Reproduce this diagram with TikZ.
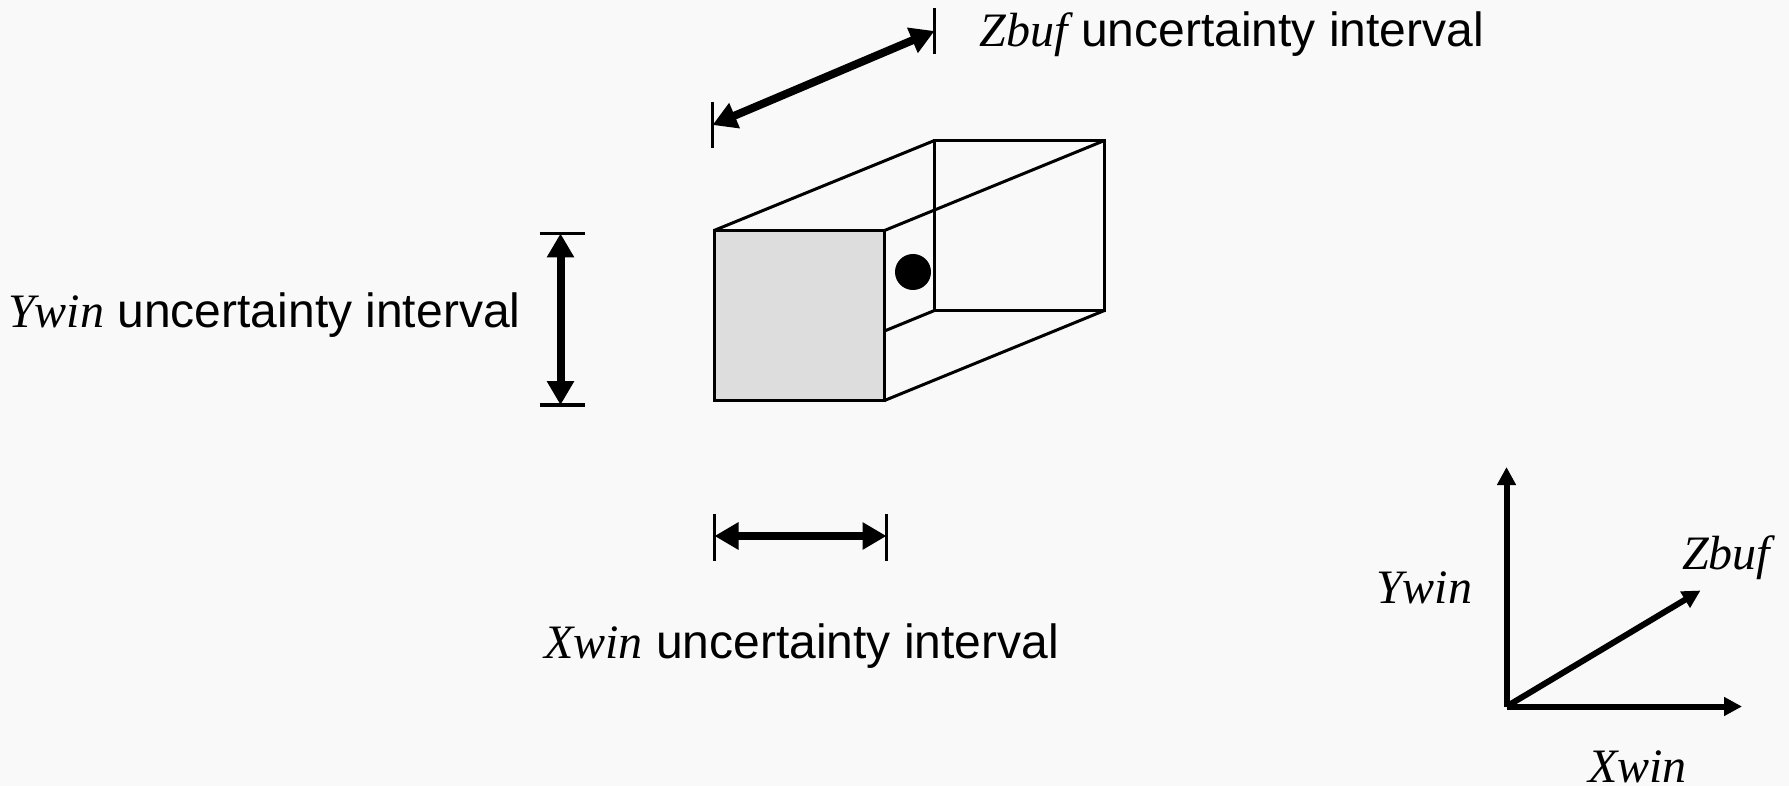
\documentclass[tikz,border=0pt]{standalone}
\usepackage{fontspec}
\setmainfont{Liberation Sans}
\newfontfamily\serifbase{Liberation Serif}
\newcommand{\varname}[1]{{\serifbase\itshape #1}}
\usetikzlibrary{arrows.meta}
\tikzset{
  label text/.style={inner sep=0pt,anchor=base west,font=\fontsize{48}{56}\selectfont},
  box line/.style={line width=3pt,line join=miter},
  bar line/.style={line width=3.6pt},
  dim arrow/.style={line width=8pt,{Triangle[length=24pt,width=26pt]}-{Triangle[length=24pt,width=26pt]}},
  axis arrow/.style={line width=6pt,-{Triangle[length=18pt,width=18pt]}}
}
\begin{document}
\begin{tikzpicture}[x=1pt,y=-1pt]
\useasboundingbox[fill={rgb,255:red,249;green,249;blue,249}] (0,0) rectangle (1789,786);
% corners
\coordinate (fa) at (714,230.5);
\coordinate (fb) at (884.5,230.5);
\coordinate (fc) at (884.5,400.5);
\coordinate (fd) at (714,400.5);
\coordinate (ba) at (934.5,140.5);
\coordinate (bb) at (1104.5,140.5);
\coordinate (bc) at (1104.5,310.5);
\coordinate (bd) at (934.5,310.5);
\coordinate (be) at (884.5,331);
% receding box
\draw[box line] (ba) rectangle (bc);
\draw[box line] (fa) -- (ba);
\draw[box line] (fb) -- (bb);
\draw[box line] (fc) -- (bc);
\draw[box line] (be) -- (bd);
\draw[box line,fill={rgb,255:red,221;green,221;blue,221}] (fa) rectangle (fc);
\node[circle,fill=black,minimum size=36pt,inner sep=0pt] (dot) at (913,272) {};
% Z interval
\coordinate (zt1) at (934.5,8); \coordinate (zt2) at (934.5,54);
\coordinate (zl1) at (712.5,102); \coordinate (zl2) at (712.5,148);
\coordinate (zp1) at (712.5,125); \coordinate (zp2) at (934.5,31);
\draw[bar line] (zt1) -- (zt2);
\draw[bar line] (zl1) -- (zl2);
\draw[dim arrow] (zp1) -- (zp2);
% Y interval
\coordinate (yt1) at (539.5,233.5); \coordinate (yt2) at (585,233.5);
\coordinate (yb1) at (539.5,405); \coordinate (yb2) at (585,405);
\coordinate (yp1) at (560.5,233.5); \coordinate (yp2) at (560.5,405);
\draw[bar line] (yt1) -- (yt2);
\draw[bar line] (yb1) -- (yb2);
\draw[dim arrow] (yp1) -- (yp2);
% X interval
\coordinate (xl1) at (714.5,514); \coordinate (xl2) at (714.5,560.5);
\coordinate (xr1) at (886.5,514); \coordinate (xr2) at (886.5,560.5);
\coordinate (xp1) at (714.5,536); \coordinate (xp2) at (886.5,536);
\draw[bar line] (xl1) -- (xl2);
\draw[bar line] (xr1) -- (xr2);
\draw[dim arrow] (xp1) -- (xp2);
% axes
\coordinate (o) at (1506.5,706.5);
\coordinate (oy) at (1506.5,467);
\coordinate (ox) at (1742,706.5);
\coordinate (oz) at (1700.5,590.5);
\draw[axis arrow] (o) -- (oy);
\draw[axis arrow] (o) -- (ox);
\draw[axis arrow] (o) -- (oz);
% labels
\node[label text] (lz) at (979.5,47) {\varname{Zbuf} uncertainty interval};
\node[label text] (ly) at (8,328) {\varname{Ywin} uncertainty interval};
\node[label text] (lx) at (544,658) {\varname{Xwin} uncertainty interval};
\node[label text] (ay) at (1376,603) {\varname{Ywin}};
\node[label text] (az) at (1682,569) {\varname{Zbuf}};
\node[label text] (ax) at (1588,782) {\varname{Xwin}};
\end{tikzpicture}
\end{document}
